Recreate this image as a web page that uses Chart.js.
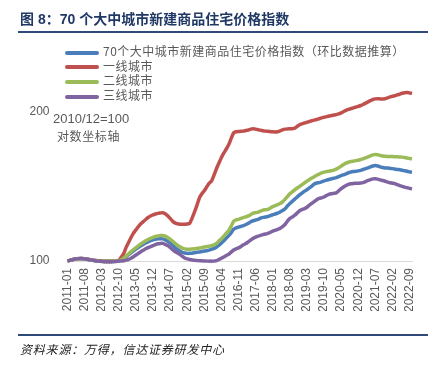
<!DOCTYPE html>
<html>
<head>
<meta charset="utf-8">
<script src="https://cdn.jsdelivr.net/npm/chart.js@4.4.0/dist/chart.umd.min.js"></script>
<style>
  body { margin: 0; background: #fff; }
  #wrap { position: relative; width: 435px; height: 367px; overflow: hidden; font-family: "Liberation Sans", "Noto Sans CJK SC", sans-serif; }
  #chart { position: absolute; left: 0; top: 0; }
  .title { position: absolute; left: 20px; top: 8px; font: bold 14px "Liberation Sans", "Noto Sans CJK SC", sans-serif; color: #203864; white-space: nowrap; }
  .rule { position: absolute; left: 18px; width: 410px; height: 2px; background: #2f4a7a; }
  .legend { position: absolute; left: 65px; top: 44px; font: 12px "Noto Sans CJK SC", sans-serif; color: #595959; letter-spacing: 0.5px; }
  .legend div { height: 14.7px; line-height: 14.7px; white-space: nowrap; }
  .legend span { display: inline-block; width: 34px; height: 4px; vertical-align: middle; margin-right: 4px; border-radius: 2px; }
  .note { position: absolute; color: #595959; white-space: nowrap; }
  .source { position: absolute; left: 20px; top: 340px; font: italic 12px "Noto Sans CJK SC", sans-serif; color: #222; letter-spacing: 0.8px; }
</style>
</head>
<body>
<div id="wrap">
  <canvas id="chart" width="435" height="367"></canvas>
  <div class="title">图 8：70 个大中城市新建商品住宅价格指数</div>
  <div class="rule" style="top:31px"></div>
  <div class="legend" id="legend"></div>
  <div class="note" style="left:53px; top:111px; font:13px 'Liberation Sans', sans-serif;">2010/12=100</div>
  <div class="note" style="left:57px; top:127px; font:12px 'Noto Sans CJK SC', sans-serif; letter-spacing:0.6px;">对数坐标轴</div>
  <div class="rule" style="top:334px"></div>
  <div class="source">资料来源：万得，信达证券研发中心</div>
</div>
<script>
// 月度类别 2011-01 ... 2022-10
const months = [];
for (let y = 2011; y <= 2022; y++) {
    for (let m = 1; m <= 12; m++) {
        if (y === 2022 && m > 10) break;
        months.push(y + '-' + String(m).padStart(2, '0'));
    }
}

const seriesNames = [
    '70个大中城市新建商品住宅价格指数（环比数据推算）',
    '一线城市',
    '二线城市',
    '三线城市'
];
const seriesColors = ['#4a7ebb', '#c0504d', '#9bbb59', '#8064a2'];

const yTicks = [100, 200];

const all70 = [
    100, 100.3, 100.6, 100.8, 101, 101.1, 101.1, 101, 100.8, 100.6,
    100.4, 100.2, 100.1, 100, 99.9, 99.8, 99.8, 99.8, 99.8, 99.9,
    100, 100.1, 100.4, 101.1, 102, 103, 103.9, 104.8, 105.7, 106.5,
    107.3, 108, 108.7, 109.3, 109.9, 110.3, 110.6, 110.8, 110.9, 110.8,
    110.3, 109.6, 108.7, 107.6, 106.5, 105.5, 104.7, 104.1, 103.8, 103.6,
    103.6, 103.7, 103.9, 104.1, 104.3, 104.5, 104.7, 104.9, 105.2, 105.6,
    106, 106.7, 107.6, 108.7, 109.8, 111.2, 112.5, 114, 115.8, 116.6,
    117, 117.4, 117.8, 118.4, 119.1, 119.9, 120.5, 120.9, 121.3, 121.9,
    122.4, 122.6, 122.9, 123.4, 123.9, 124.3, 124.8, 125.5, 126.3, 127.2,
    129, 130.5, 131.8, 133.2, 134.5, 135.8, 137, 138.2, 139.1, 140.3,
    141.5, 142.8, 143.5, 143.8, 144.3, 144.9, 145.4, 145.9, 146.3, 146.7,
    147.1, 147.8, 148.5, 149.1, 149.7, 150.5, 151, 151.3, 151.5, 151.8,
    152.2, 152.8, 153.4, 154, 154.7, 155.3, 155.6, 155.3, 154.7, 154.2,
    153.9, 153.8, 153.6, 153.4, 153.1, 152.8, 152.6, 152.3, 151.9, 151.5,
    151.1, 150.8
];

const tier1 = [
    100, 100.3, 100.6, 100.9, 101.1, 101.2, 101.2, 101.1, 100.9, 100.7,
    100.5, 100.3, 100.2, 100.1, 100.0, 99.9, 99.8, 99.8, 99.8, 99.9,
    100.0, 100.2, 101.8, 103.5, 106.5, 109, 111.5, 113.8, 115.5, 117.3,
    118.8, 120, 121.2, 122.3, 123.2, 123.8, 124.3, 124.7, 124.9, 125.1,
    124.5, 123.3, 121.8, 120.3, 119.3, 118.8, 118.6, 118.6, 118.6, 118.7,
    119.1, 122, 125.5, 129.5, 134, 136.5, 138.5, 141, 143.4, 145,
    149, 153.5, 157.5, 161.5, 165, 168, 171.5, 176.5, 181, 182,
    182.2, 182.3, 182.5, 183, 183.5, 184.2, 184.5, 184.2, 183.7, 183.2,
    182.8, 182.5, 182.3, 182.1, 181.9, 181.8, 182, 182.8, 183.6, 184.2,
    184.4, 184.5, 184.6, 185, 186.5, 188, 188.8, 189.5, 190.2, 190.8,
    191.5, 192, 192.6, 193.3, 194, 194.6, 195.2, 195.7, 196.2, 196.6,
    197, 197.6, 198.6, 199.8, 201, 201.8, 202.5, 203.3, 204, 204.7,
    205.5, 206.5, 207.8, 209, 210.2, 211.3, 211.9, 212, 211.9, 211.9,
    212, 212.8, 213.8, 214.5, 215, 215.8, 216.7, 217.5, 218, 218.2,
    217.8, 217.3
];

const tier2 = [
    100, 100.3, 100.6, 100.8, 101, 101.1, 101.1, 101, 100.8, 100.6,
    100.4, 100.2, 100.1, 100, 99.9, 99.8, 99.8, 99.8, 99.8, 99.9,
    100, 100.1, 100.5, 101.3, 102.3, 103.4, 104.4, 105.4, 106.4, 107.3,
    108.2, 109, 109.8, 110.5, 111.1, 111.6, 112, 112.3, 112.5, 112.5,
    112.2, 111.5, 110.6, 109.6, 108.5, 107.6, 106.8, 106.2, 105.8, 105.6,
    105.6, 105.7, 105.8, 106, 106.2, 106.4, 106.7, 106.9, 107.1, 107.4,
    107.8, 108.5, 109.8, 110.9, 112.2, 113.8, 115.2, 117.5, 120.2, 121,
    121.3, 121.8, 122.3, 122.7, 123.2, 124, 124.8, 125.1, 125.4, 126,
    126.6, 126.8, 127, 127.8, 128.6, 129.2, 129.8, 130.5, 131.5, 133,
    134.8, 136.5, 137.8, 139, 140.2, 141.2, 142.4, 143.6, 144.8, 145.8,
    146.8, 147.8, 148.8, 149.6, 150.4, 150.9, 151.3, 151.6, 151.9, 152.3,
    153, 154, 155.2, 156.4, 157.4, 158, 158.5, 158.8, 159.2, 159.5,
    160, 160.6, 161.2, 162, 162.8, 163.5, 163.8, 163.6, 163, 162.6,
    162.4, 162.3, 162.2, 162.2, 162.1, 162, 161.9, 161.8, 161.5, 161.1,
    160.8, 160.5
];

const tier3 = [
    100, 100.3, 100.6, 100.9, 101.1, 101.2, 101.2, 101, 100.8, 100.6,
    100.4, 100.2, 100, 99.9, 99.8, 99.7, 99.7, 99.7, 99.7, 99.7,
    99.8, 99.9, 100, 100.1, 100.4, 100.8, 101.3, 102, 102.8, 103.6,
    104.4, 105.1, 105.8, 106.4, 106.9, 107.4, 107.9, 108.3, 108.5, 108.5,
    108, 107.4, 106.5, 105.4, 104.5, 103.8, 103.1, 102.2, 101.4, 101,
    100.7, 100.5, 100.3, 100.2, 100.1, 100.1, 100, 100, 99.9, 99.9,
    100, 100.2, 100.7, 101.3, 101.9, 102.6, 103.2, 104.2, 105.2, 105.8,
    106.3, 107, 107.8, 108.4, 109.3, 110.2, 111.1, 111.7, 112.2, 112.6,
    113, 113.3, 113.7, 114.2, 114.8, 115.3, 115.8, 116.3, 117.2, 118.4,
    120.2, 121.8, 122.6, 123.6, 124.9, 126.2, 126.9, 127.5, 128.3, 129.5,
    130.6, 131.7, 132.8, 133.6, 134, 134.5, 135.4, 136.2, 136.6, 136.8,
    137.1, 138.4, 139.8, 140.9, 141.9, 142.6, 143, 143.2, 143.3, 143.4,
    143.5, 143.8, 144.5, 145.2, 145.8, 146.3, 146.4, 146.1, 145.6, 145.2,
    144.7, 144.1, 143.7, 143.4, 143.1, 142.4, 141.8, 141.3, 140.8, 140.4,
    140, 139.7
];

const seriesData = [all70, tier1, tier2, tier3];

// 图例（HTML）
document.getElementById('legend').innerHTML = seriesNames.map((n, i) =>
    `<div><span style="background:${seriesColors[i]}"></span>${n}</div>`).join('');

const datasets = seriesData.map((d, i) => ({
    label: seriesNames[i],
    data: d,
    borderColor: seriesColors[i],
    borderWidth: 3.5,
    pointRadius: 0,
    tension: 0.2,
    fill: false,
    clip: 6,
    order: 3 - i   // 三线城市画在最上层
}));

new Chart(document.getElementById('chart'), {
    type: 'line',
    data: { labels: months, datasets: datasets },
    options: {
        responsive: false,
        animation: false,
        layout: { padding: { left: 27.5, right: 23, top: 72, bottom: 56 } },
        plugins: { legend: { display: false }, tooltip: { enabled: false } },
        scales: {
            x: {
                grid: { display: false, drawTicks: false },
                border: { display: true, color: '#d9d9d9', width: 1 },
                afterFit: s => { s.height = 50; },
                ticks: {
                    autoSkip: false,
                    minRotation: 90,
                    maxRotation: 90,
                    padding: 7,
                    color: '#595959',
                    font: { family: 'Liberation Sans', size: 12 },
                    callback: (v, i) => i % 7 === 0 ? months[i] : ''
                }
            },
            y: {
                type: 'logarithmic',
                min: 100,
                max: 240,
                grid: { display: false, drawTicks: false },
                border: { display: false },
                afterFit: s => { s.width = 40; },
                afterBuildTicks: s => { s.ticks = yTicks.map(v => ({ value: v })); },
                ticks: {
                    padding: 18,
                    color: '#595959',
                    font: { family: 'Liberation Sans', size: 12 },
                    callback: v => String(v)
                }
            }
        }
    }
});
</script>
</body>
</html>
